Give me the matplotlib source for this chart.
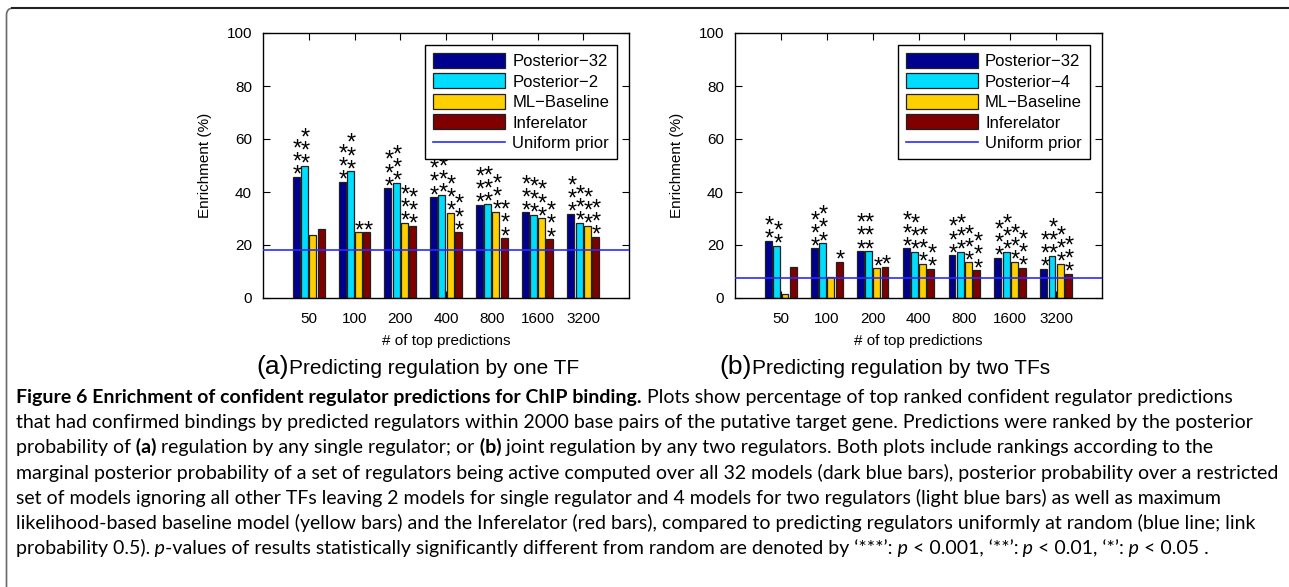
import numpy as np
import matplotlib
matplotlib.use('Agg')
import matplotlib.pyplot as plt
from matplotlib.patches import FancyBboxPatch
from matplotlib.lines import Line2D
from matplotlib.transforms import IdentityTransform

# data
groups = ['50', '100', '200', '400', '800', '1600', '3200']
labels_a = ['Posterior\u221232', 'Posterior\u22122', 'ML\u2212Baseline', 'Inferelator']
labels_b = ['Posterior\u221232', 'Posterior\u22124', 'ML\u2212Baseline', 'Inferelator']

post32_a = [45.7, 43.9, 41.4, 38.1, 35.2, 32.3, 31.8]
postk_a = [49.8, 47.8, 43.4, 39.0, 35.6, 31.5, 28.3]
mlbase_a = [23.9, 24.8, 28.3, 32.1, 32.6, 30.1, 27.3]
infer_a = [25.9, 24.8, 27.3, 24.8, 22.6, 22.2, 23.2]
uniform_a = 18.1

post32_b = [21.6, 18.7, 17.7, 18.7, 16.1, 15.1, 11.0]
postk_b = [19.7, 20.7, 17.7, 17.5, 17.5, 17.5, 16.0]
mlbase_b = [1.6, 7.9, 11.2, 12.9, 13.4, 13.7, 13.0]
infer_b = [11.8, 13.7, 11.8, 11.0, 10.5, 11.5, 9.1]
uniform_b = 7.4

# number of significance stars above each bar
stars_a = [[3, 3, 3, 3, 3, 3, 3], [3, 3, 3, 3, 3, 3, 3],
           [0, 1, 3, 3, 3, 3, 3], [0, 1, 3, 3, 3, 3, 3]]
stars_b = [[2, 3, 3, 3, 3, 3, 3], [2, 3, 3, 3, 3, 3, 3],
           [0, 0, 1, 3, 3, 3, 3], [0, 1, 1, 2, 3, 3, 3]]

colors = ['#00008F', '#00DDFF', '#FFD000', '#800000']

plt.rcParams['font.family'] = ['Liberation Sans', 'DejaVu Sans']

fig = plt.figure(figsize=(12.89, 5.87), dpi=100)
W, H = 1289, 587


def panel(rect, vals, stars, labels, uniform):
    ax = fig.add_axes(rect)
    x = np.arange(1, len(groups) + 1)
    for i, v in enumerate(vals):
        pos = x + (i - 1.5) * 0.18
        ax.bar(pos, v, width=0.15, color=colors[i], edgecolor='#202020',
               linewidth=0.9, label=labels[i], zorder=2)
        for p, h, n in zip(pos, v, stars[i]):
            if n:
                # one stacked text per bar
                ax.annotate('\n'.join(['*'] * n), xy=(p, h), xytext=(1, -10),
                            textcoords='offset pixels', ha='center',
                            va='bottom', fontsize=17, linespacing=0.48,
                            zorder=4)
    ax.axhline(uniform, color='#2b2bff', lw=1.2, label='Uniform prior', zorder=3)
    ax.set_xlim(0, 8)
    ax.set_ylim(0, 100)
    ax.set_xticks(x)
    ax.set_xticklabels(groups)
    ax.set_yticks(np.arange(0, 101, 20))
    ax.tick_params(direction='in', length=5, width=0.8, top=True, right=True,
                   labelsize=11, pad=8)
    ax.tick_params(axis='x', pad=10)
    for s in ax.spines.values():
        s.set_linewidth(1.0)
    ax.set_xlabel('# of top predictions', fontsize=11, labelpad=6)
    ax.set_ylabel('Enrichment (%)', fontsize=11, labelpad=10)
    h, l = ax.get_legend_handles_labels()
    h = h[1:] + h[:1]
    l = l[1:] + l[:1]
    leg = ax.legend(h, l, loc='upper right', fontsize=12, handlelength=4.3,
                    handleheight=1.0, labelspacing=0.26, borderpad=0.5,
                    handletextpad=0.45, fancybox=False, framealpha=1,
                    edgecolor='black', borderaxespad=0.7)
    leg.get_frame().set_linewidth(1.0)
    return ax


panel([263 / W, 1 - 298 / H, 366 / W, 265 / H],
      [post32_a, postk_a, mlbase_a, infer_a], stars_a, labels_a, uniform_a)
panel([735 / W, 1 - 298 / H, 367 / W, 265 / H],
      [post32_b, postk_b, mlbase_b, infer_b], stars_b, labels_b, uniform_b)

# sub-figure titles
fig.text(289 / W, 1 - 374 / H, '(a)', ha='right', va='baseline', fontsize=19)
fig.text(289 / W, 1 - 374 / H, 'Predicting regulation by one TF', ha='left',
         va='baseline', fontsize=15)
fig.text(752 / W, 1 - 374 / H, '(b)', ha='right', va='baseline', fontsize=19)
fig.text(752 / W, 1 - 374 / H, 'Predicting regulation by two TFs', ha='left',
         va='baseline', fontsize=15)

# frame around the figure
box = FancyBboxPatch((6.5, -20), 1320, H - 8 + 20,
                     boxstyle='round,pad=0,rounding_size=7',
                     transform=IdentityTransform(), facecolor='none',
                     edgecolor='#6a6a6a', lw=1.2)
fig.add_artist(box)
fig.add_artist(Line2D([12, W], [H - 8, H - 8], transform=IdentityTransform(),
                      color='#222222', lw=1.5))

# caption, one line per entry, segments: (text, weight, style)
R, B, I = ('normal', 'normal'), ('bold', 'normal'), ('normal', 'italic')
caption = [
    [('Figure 6 Enrichment of confident regulator predictions for ChIP binding.', B),
     (' Plots show percentage of top ranked confident regulator predictions', R)],
    [('that had confirmed bindings by predicted regulators within 2000 base pairs of the putative target gene. Predictions were ranked by the posterior', R)],
    [('probability of', R), (' (a)', B), (' regulation by any single regulator; or', R),
     (' (b)', B), (' joint regulation by any two regulators. Both plots include rankings according to the', R)],
    [('marginal posterior probability of a set of regulators being active computed over all 32 models (dark blue bars), posterior probability over a restricted', R)],
    [('set of models ignoring all other TFs leaving 2 models for single regulator and 4 models for two regulators (light blue bars) as well as maximum', R)],
    [('likelihood-based baseline model (yellow bars) and the Inferelator (red bars), compared to predicting regulators uniformly at random (blue line; link', R)],
    [('probability 0.5).', R), (' p', I),
     ('-values of results statistically significantly different from random are denoted by \u2018***\u2019:', R),
     (' p', I), (' < 0.001, \u2018**\u2019:', R), (' p', I), (' < 0.01, \u2018*\u2019:', R),
     (' p', I), (' < 0.05 .', R)],
]

cax = fig.add_axes([0, 0, 1, 1])
cax.axis('off')
cap_font = ['Lato', 'DejaVu Sans']
for n, line in enumerate(caption):
    y = 1 - (403 + 25.2 * n) / H
    prev = None
    for txt, (wt, st) in line:
        if prev is None:
            prev = cax.text(16 / W, y, txt, fontsize=14.0, family=cap_font,
                            weight=wt, style=st, ha='left', va='baseline',
                            transform=fig.transFigure)
        else:
            prev = cax.annotate(txt, xy=(1, 0), xycoords=prev, xytext=(0, 0),
                                textcoords='offset pixels', fontsize=14.0,
                                family=cap_font, weight=wt, style=st,
                                ha='left', va='bottom')

fig.savefig('out.png', dpi=100)
